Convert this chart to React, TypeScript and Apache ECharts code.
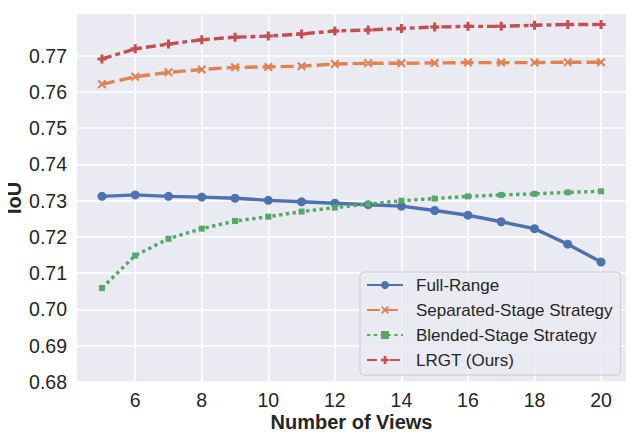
import React, { useEffect, useRef } from "react";
import * as echarts from "echarts";

const views = [5, 6, 7, 8, 9, 10, 11, 12, 13, 14, 15, 16, 17, 18, 19, 20];
const fullRange = [0.7312, 0.7316, 0.7312, 0.731, 0.7307, 0.7301, 0.7297, 0.7293, 0.7289, 0.7285, 0.7273, 0.726, 0.7242, 0.7223, 0.718, 0.7131];
const separated = [0.7621, 0.7642, 0.7654, 0.7662, 0.7668, 0.7669, 0.7671, 0.7677, 0.7679, 0.7679, 0.768, 0.7681, 0.7681, 0.7681, 0.7682, 0.7682];
const blended = [0.7059, 0.7149, 0.7195, 0.7223, 0.7244, 0.7256, 0.727, 0.7281, 0.7291, 0.73, 0.7306, 0.7312, 0.7316, 0.7319, 0.7323, 0.7326];
const lrgt = [0.7691, 0.7719, 0.7732, 0.7744, 0.7751, 0.7754, 0.776, 0.7768, 0.7771, 0.7775, 0.7779, 0.7781, 0.7781, 0.7784, 0.7786, 0.7786];
const seriesNames = ["Full-Range", "Separated-Stage Strategy", "Blended-Stage Strategy", "LRGT (Ours)"];
const xTicks = [6, 8, 10, 12, 14, 16, 18, 20];
const yTicks = [0.68, 0.69, 0.7, 0.71, 0.72, 0.73, 0.74, 0.75, 0.76, 0.77];

const FONT = "Arial, 'Liberation Sans', sans-serif";
const TEXT = "#262626";
const X_PATH = "path://M-3,-2L-2,-3L0,-1L2,-3L3,-2L1,0L3,2L2,3L0,1L-2,3L-3,2L-1,0Z";
const P_PATH = "path://M-1,-3L1,-3L1,-1L3,-1L3,1L1,1L1,3L-1,3L-1,1L-3,1L-3,-1L-1,-1Z";

export default function App() {
  const ref = useRef<HTMLDivElement>(null);
  useEffect(() => {
    if (!ref.current) return;
    const chart = echarts.init(ref.current, null, { renderer: "svg" });
    const pair = (vals: number[]) => views.map((v, i) => [v, vals[i]]);
    const mk = (name: string, vals: number[], color: string, dash: any, symbol: string, size: number) => ({
      name,
      type: "line",
      z: 3,
      data: pair(vals),
      symbol,
      symbolSize: size,
      showSymbol: true,
      lineStyle: { color, width: 3.4, type: dash },
      itemStyle: { color },
      emphasis: { disabled: true },
    });
    chart.setOption({
      animation: false,
      textStyle: { fontFamily: FONT },
      grid: {
        left: 77,
        right: 13,
        top: 14,
        bottom: 56,
        show: true,
        backgroundColor: "#EAEAF2",
        borderWidth: 0,
        containLabel: false,
        outerBoundsMode: "none",
      },
      xAxis: {
        type: "value",
        min: 4.25,
        max: 20.75,
        name: "Number of Views",
        nameLocation: "middle",
        nameGap: 30,
        nameMoveOverlap: false,
        nameTextStyle: { fontSize: 20, fontWeight: "bold", color: TEXT, fontFamily: FONT },
        axisLine: { show: false },
        axisTick: { show: false },
        splitLine: { show: false },
        axisLabel: { customValues: xTicks, fontSize: 19.5, color: TEXT, margin: 8, fontFamily: FONT },
      },
      yAxis: {
        type: "value",
        min: 0.68,
        max: 0.7815,
        name: "IoU",
        nameLocation: "middle",
        nameGap: 53,
        nameMoveOverlap: false,
        nameTextStyle: { fontSize: 20, fontWeight: "bold", color: TEXT, fontFamily: FONT },
        axisLine: { show: false },
        axisTick: { show: false },
        splitLine: { show: false },
        axisLabel: {
          customValues: yTicks,
          fontSize: 19.5,
          color: TEXT,
          margin: 10,
          fontFamily: FONT,
          formatter: (v: number) => v.toFixed(2),
        },
      },
      legend: {
        data: seriesNames,
        orient: "vertical",
        left: 360,
        top: 272,
        z: 10,
        padding: [3, 8, 5, 6],
        itemWidth: 36,
        itemHeight: 10,
        itemGap: 5,
        backgroundColor: "rgba(234,234,242,0.8)",
        borderColor: "#CCCCCC",
        borderWidth: 1,
        borderRadius: 4,
        itemStyle: { borderWidth: 0 },
        textStyle: { fontSize: 17, lineHeight: 20, color: TEXT, fontFamily: FONT, padding: [0, 0, 0, 8] },
      },
      series: [
        {
          type: "line",
          z: 1,
          data: [],
          silent: true,
          markLine: {
            z: 1,
            silent: true,
            symbol: "none",
            label: { show: false },
            lineStyle: { color: "#FFFFFF", width: 1.5, type: "solid" },
            emphasis: { disabled: true },
            data: [...yTicks.map((v) => ({ yAxis: v })), ...xTicks.map((v) => ({ xAxis: v }))],
          },
        },
        mk(seriesNames[0], fullRange, "#4C72B0", "solid", "circle", 9),
        mk(seriesNames[1], separated, "#DD8452", [13, 5], X_PATH, 9),
        mk(seriesNames[2], blended, "#55A868", [3.4, 3.4], "rect", 6),
        mk(seriesNames[3], lrgt, "#C44E52", [10, 4, 4.8, 4], P_PATH, 9),
      ],
    });
    return () => chart.dispose();
  }, []);
  return <div ref={ref} style={{ width: 639, height: 438, margin: -8 }} />;
}
